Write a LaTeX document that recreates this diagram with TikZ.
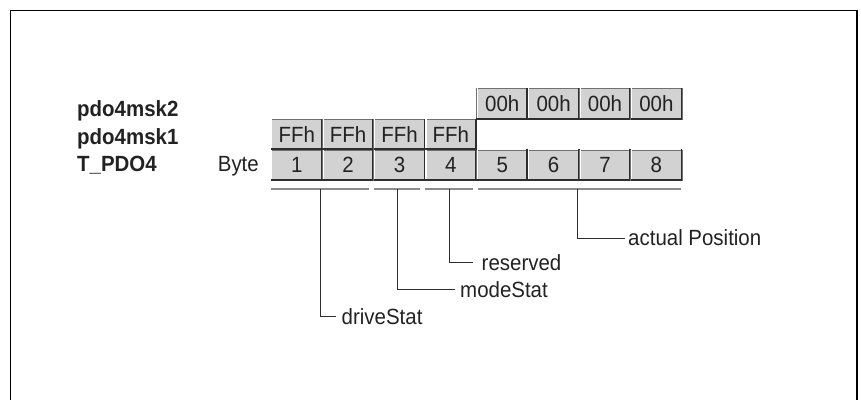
\documentclass[tikz,border=0pt]{standalone}
\usepackage{fontspec}
\setmainfont[FakeStretch=0.93]{Liberation Sans}
\definecolor{cellgray}{HTML}{D2D2D2}
\definecolor{cellline}{HTML}{707070}
\definecolor{celldark}{HTML}{2E2E2E}
\definecolor{txt}{HTML}{222222}
\definecolor{ulgray}{HTML}{8C8C8C}
\begin{document}
\begin{tikzpicture}[x=1pt,y=-1pt,
  cell/.style={draw=cellline, line width=0.7pt, fill=cellgray,
    minimum width=51.4pt, minimum height=30.4pt, inner sep=0pt,
    font=\fontsize{22}{26}\selectfont, text=txt},
  cellhi/.style={draw=white, line width=1.1pt},
  celledge/.style={draw=celldark, line width=1.7pt},
  rowlabel/.style={inner sep=0pt, font=\fontsize{22}{26}\selectfont\bfseries, text=txt},
  bytelabel/.style={inner sep=0pt, font=\fontsize{22}{26}\selectfont, text=txt},
  fieldlabel/.style={inner sep=0pt, text depth=0pt, font=\fontsize{22}{26}\selectfont, text=txt},
  uline/.style={draw=ulgray, line width=2pt},
  leader/.style={draw=celldark, line width=0.8pt}]
\useasboundingbox (0,0) rectangle (861,399);
% frame
\draw[line width=1.2pt] (10.7,400) -- (10.7,10.7) -- (857,10.7) -- (857,400);
% row labels
\node[rowlabel, anchor=base west] (lm2) at (77,116) {pdo4msk2};
\node[rowlabel, anchor=base west] (lm1) at (77,144) {pdo4msk1};
\node[rowlabel, anchor=base west] (ltp) at (77,171.5) {T\_PDO4};
\node[bytelabel, anchor=base east] (lbyte) at (259,171.5) {Byte};
\newcommand{\bevel}[1]{%
  \draw[cellhi] ([xshift=1.2pt,yshift=-1.4pt]#1.south west) -- ([xshift=1.2pt,yshift=1.2pt]#1.north west) -- ([xshift=-1.4pt,yshift=1.2pt]#1.north east);
  \draw[celledge] ([xshift=-0.9pt,yshift=0.3pt]#1.north east) -- ([xshift=-0.9pt,yshift=0.9pt]#1.south east) -- ([xshift=0.3pt,yshift=0.9pt]#1.south west);}
% byte row
\foreach \i in {1,...,8} {
  \node[cell] (b\i) at ({271+(\i-0.5)*51.375},165.3) {\i};
  \bevel{b\i}
}
% FFh row
\foreach \i in {1,...,4} {
  \node[cell] (f\i) at ({271+(\i-0.5)*51.375},134.6) {FFh};
  \bevel{f\i}
}
% 00h row
\foreach \i in {5,...,8} {
  \node[cell] (z\i) at ({271+(\i-0.5)*51.375},104) {00h};
  \bevel{z\i}
}
% brackets under bytes
\draw[uline] (271,189) -- (369,189);
\draw[uline] (373.7,189) -- (420,189);
\draw[uline] (424.7,189) -- (473.3,189);
\draw[uline] (478.3,189) -- (680.5,189);
\coordinate (u1) at (320.5,189);
\coordinate (u2) at (397.5,189);
\coordinate (u3) at (449,189);
\coordinate (u4) at (577.5,189);
% field labels
\node[fieldlabel, anchor=west] (drive) at (341.5,316.5) {driveStat};
\node[fieldlabel, anchor=west] (mode) at (460,289.5) {modeStat};
\node[fieldlabel, anchor=west] (resv) at (481.5,262.5) {reserved};
\node[fieldlabel, anchor=west] (apos) at (628,238) {actual Position};
% leaders
\draw[leader] (u1) |- ([xshift=-5.5pt]drive.west);
\draw[leader] (u2) |- ([xshift=-5pt]mode.west);
\draw[leader] (u3) |- ([xshift=-8.3pt]resv.west);
\draw[leader] (u4) |- ([xshift=-3pt]apos.west);
\end{tikzpicture}
\end{document}
